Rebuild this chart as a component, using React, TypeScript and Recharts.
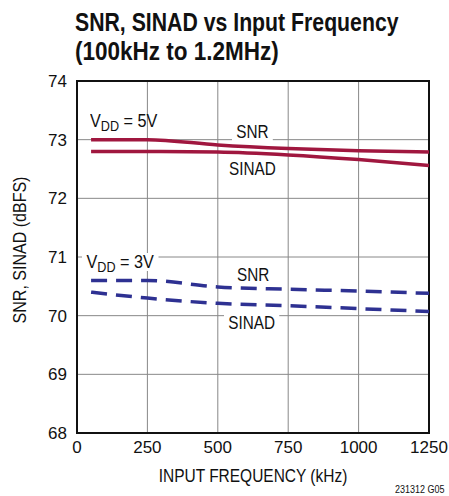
import { LineChart, Line, XAxis, YAxis, CartesianGrid, ReferenceArea } from "recharts";

const freqs = [50, 250, 500, 750, 1000, 1250];
const snr5 = [73.0, 73.0, 72.91, 72.85, 72.81, 72.79];
const sinad5 = [72.8, 72.8, 72.79, 72.74, 72.66, 72.56];
const snr3 = [70.6, 70.6, 70.49, 70.45, 70.42, 70.38];
const sinad3 = [70.4, 70.3, 70.21, 70.17, 70.12, 70.07];

const xTicks = [0, 250, 500, 750, 1000, 1250];
const yTicks = [68, 69, 70, 71, 72, 73, 74];

const data = freqs.map((f, i) => ({
  f,
  snr5: snr5[i],
  sinad5: sinad5[i],
  snr3: snr3[i],
  sinad3: sinad3[i],
}));

const font = "'Liberation Sans', Arial, sans-serif";
const red = "#a0173f";
const blue = "#2e3192";

const tickStyle = { fill: "#111", fontSize: 17, fontFamily: font };

// narrow text: the original uses a condensed face, so squeeze horizontally
const Narrow = ({ s, children, style }: { s: number; children: any; style?: any }) => (
  <span style={{ display: "inline-block", transform: `scaleX(${s})`, transformOrigin: "left center", whiteSpace: "nowrap", ...style }}>
    {children}
  </span>
);

const Tag = ({ x, y, children, bg, s = 0.85 }: { x: number; y: number; children: any; bg?: boolean; s?: number }) => (
  <div
    style={{
      position: "absolute",
      left: x,
      top: y,
      fontFamily: font,
      fontSize: 18,
      lineHeight: "18px",
      color: "#111",
    }}
  >
    <Narrow s={s} style={{ background: bg ? "#fff" : "transparent", padding: bg ? "0 5px" : 0 }}>
      {children}
    </Narrow>
  </div>
);

const Vdd = ({ v }: { v: string }) => (
  <span>
    V<sub style={{ fontSize: 14, verticalAlign: "-4px", lineHeight: 0 }}>DD</sub> = {v}
  </span>
);

export default function App() {
  return (
    <div style={{ position: "absolute", left: 0, top: 0, width: 449, height: 496, background: "#fff" }}>
      <div style={{ position: "absolute", left: 75, top: 10, fontFamily: font, fontWeight: "bold", fontSize: 25, lineHeight: "25px", color: "#111" }}>
        <Narrow s={0.85}>SNR, SINAD vs Input Frequency</Narrow>
      </div>
      <div style={{ position: "absolute", left: 75, top: 39, fontFamily: font, fontWeight: "bold", fontSize: 25, lineHeight: "25px", color: "#111" }}>
        <Narrow s={0.9}>(100kHz to 1.2MHz)</Narrow>
      </div>

      <LineChart width={449} height={496} data={data} margin={{ top: 81, right: 20, left: 0, bottom: 0 }}>
        <CartesianGrid stroke="#888" strokeWidth={1} />
        <XAxis
          dataKey="f"
          type="number"
          domain={[0, 1250]}
          ticks={xTicks}
          tickSize={0}
          tickMargin={8}
          height={63}
          axisLine={false}
          tick={tickStyle}
        />
        <YAxis
          type="number"
          domain={[68, 74]}
          ticks={yTicks}
          tickSize={0}
          tickMargin={10}
          width={77}
          axisLine={false}
          tick={tickStyle}
        />
        <ReferenceArea x1={0} x2={1250} y1={68} y2={74} fill="none" stroke="#111" strokeWidth={2} ifOverflow="visible" />
        <Line type="monotone" dataKey="snr5" stroke={red} strokeWidth={3.5} dot={false} isAnimationActive={false} />
        <Line type="monotone" dataKey="sinad5" stroke={red} strokeWidth={3.5} dot={false} isAnimationActive={false} />
        <Line type="monotone" dataKey="snr3" stroke={blue} strokeWidth={3.5} strokeDasharray="16 9" dot={false} isAnimationActive={false} />
        <Line type="monotone" dataKey="sinad3" stroke={blue} strokeWidth={3.5} strokeDasharray="16 9" dot={false} isAnimationActive={false} />
      </LineChart>

      <Tag x={90} y={112} s={0.9}><Vdd v="5V" /></Tag>
      <Tag x={232} y={123} bg>SNR</Tag>
      <Tag x={229} y={160}>SINAD</Tag>
      <Tag x={82} y={253} bg s={0.9}><Vdd v="3V" /></Tag>
      <Tag x={237} y={266}>SNR</Tag>
      <Tag x={224} y={314} bg>SINAD</Tag>

      <div
        style={{
          position: "absolute",
          left: 20,
          top: 250,
          transform: "translate(-50%, -50%) rotate(-90deg) scaleX(0.89)",
          fontFamily: font,
          fontSize: 18,
          color: "#111",
          whiteSpace: "nowrap",
        }}
      >
        SNR, SINAD (dBFS)
      </div>
      <div
        style={{
          position: "absolute",
          left: 253,
          top: 466,
          transform: "translateX(-50%) scaleX(0.86)",
          fontFamily: font,
          fontSize: 18,
          color: "#111",
          whiteSpace: "nowrap",
        }}
      >
        INPUT FREQUENCY (kHz)
      </div>
      <div style={{ position: "absolute", left: 395, top: 484, fontFamily: font, fontSize: 10, color: "#111", whiteSpace: "nowrap" }}>
        <Narrow s={0.9}>231312 G05</Narrow>
      </div>
    </div>
  );
}
